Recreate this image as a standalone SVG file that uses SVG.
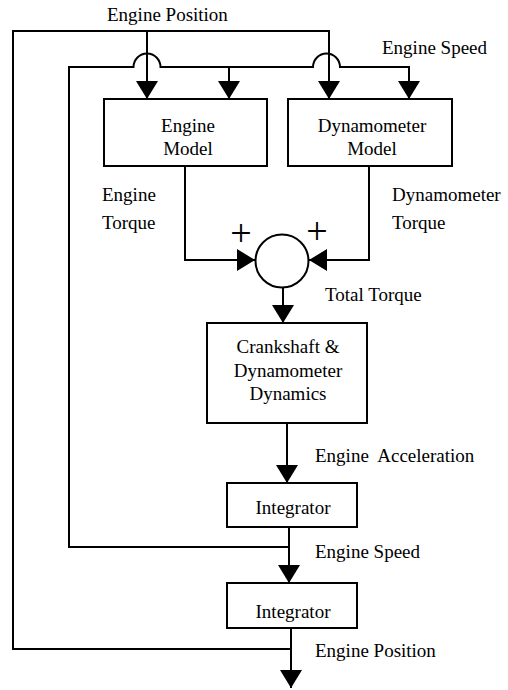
<svg xmlns="http://www.w3.org/2000/svg" width="508" height="690" viewBox="0 0 508 690">
<style>
  .box { fill: #fff; stroke: #000; stroke-width: 2; }
  .wire { fill: none; stroke: #000; stroke-width: 2; }
  text { font-family: "Liberation Serif", "Times New Roman", serif; font-size: 19px; fill: #000; }
  .c { text-anchor: middle; }
  .plus { font-size: 38px; text-anchor: middle; }
</style>
<defs>
  <marker id="arr" markerUnits="userSpaceOnUse" markerWidth="20" markerHeight="24" refX="18" refY="11" orient="auto" overflow="visible">
    <path d="M0,0 L18,11 L0,22 Z" fill="#000"/>
  </marker>
</defs>
<rect width="508" height="690" fill="#fff"/>

<g id="connectors">
  <!-- Engine position feedback -->
  <path class="wire" d="M291,649 L13,649 L13,31 L329,31 L329,99" marker-end="url(#arr)"/>
  <path class="wire" d="M147,31 L147,99" marker-end="url(#arr)"/>
  <!-- Engine speed feedback -->
  <path class="wire" d="M289,547 L69,547 L69,67 L133.5,67 A13.5,13.5 0 0 1 160.5,67 L313,67 A13.5,13.5 0 0 1 340,67 L409,67 L409,99" marker-end="url(#arr)"/>
  <path class="wire" d="M229,67 L229,99" marker-end="url(#arr)"/>
  <!-- torques -->
  <path class="wire" d="M185,166 L185,260 L255,260" marker-end="url(#arr)"/>
  <path class="wire" d="M369,166 L369,260 L309,260" marker-end="url(#arr)"/>
  <!-- total torque -->
  <path class="wire" d="M283,287 L283,323" marker-end="url(#arr)"/>
  <!-- acceleration -->
  <path class="wire" d="M287,423 L287,483" marker-end="url(#arr)"/>
  <!-- speed -->
  <path class="wire" d="M289,527 L289,583" marker-end="url(#arr)"/>
  <!-- position -->
  <path class="wire" d="M291,628 L291,688" marker-end="url(#arr)"/>
</g>

<g id="engine-model">
  <rect class="box" x="104" y="99" width="163" height="67"/>
  <text class="c" x="188" y="132">Engine</text>
  <text class="c" x="188" y="155">Model</text>
</g>
<g id="dynamometer-model">
  <rect class="box" x="288" y="99" width="164" height="67"/>
  <text class="c" x="372" y="132">Dynamometer</text>
  <text class="c" x="372" y="155">Model</text>
</g>
<g id="sum">
  <circle class="box" cx="282" cy="261" r="26.5"/>
  <text class="plus" x="241" y="246">+</text>
  <text class="plus" x="317" y="244">+</text>
</g>
<g id="crankshaft">
  <rect class="box" x="207" y="323" width="160" height="100"/>
  <text class="c" x="288" y="353">Crankshaft &amp;</text>
  <text class="c" x="288" y="377">Dynamometer</text>
  <text class="c" x="288" y="400">Dynamics</text>
</g>
<g id="integrator1">
  <rect class="box" x="227" y="483" width="130" height="44"/>
  <text class="c" x="293" y="514">Integrator</text>
</g>
<g id="integrator2">
  <rect class="box" x="227" y="583" width="130" height="45"/>
  <text class="c" x="293" y="618">Integrator</text>
</g>

<g id="labels">
  <text x="107" y="21">Engine Position</text>
  <text x="382" y="54">Engine Speed</text>
  <text x="102" y="201">Engine</text>
  <text x="102" y="229">Torque</text>
  <text x="392" y="201">Dynamometer</text>
  <text x="392" y="229">Torque</text>
  <text x="325" y="301">Total Torque</text>
  <text x="315" y="462" xml:space="preserve">Engine  Acceleration</text>
  <text x="315" y="558">Engine Speed</text>
  <text x="315" y="657">Engine Position</text>
</g>
</svg>
